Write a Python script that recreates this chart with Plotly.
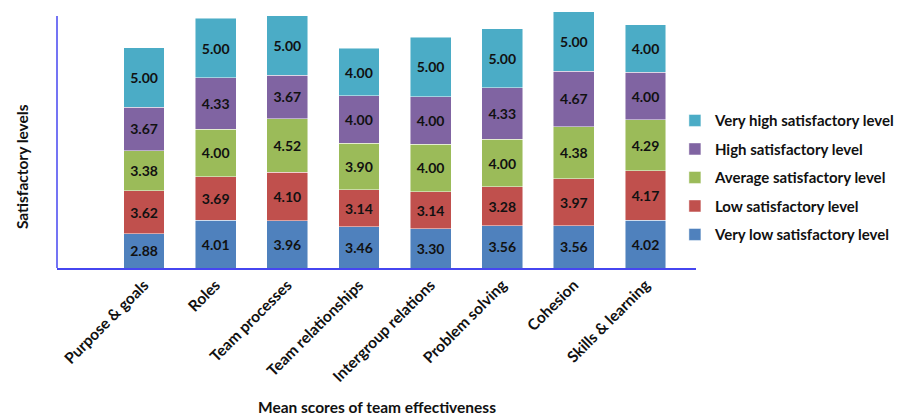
import plotly.graph_objects as go

categories = ["Purpose & goals", "Roles", "Team processes", "Team relationships",
              "Intergroup relations", "Problem solving", "Cohesion", "Skills & learning"]

very_low = [2.88, 4.01, 3.96, 3.46, 3.30, 3.56, 3.56, 4.02]
low = [3.62, 3.69, 4.10, 3.14, 3.14, 3.28, 3.97, 4.17]
average = [3.38, 4.00, 4.52, 3.90, 4.00, 4.00, 4.38, 4.29]
high = [3.67, 4.33, 3.67, 4.00, 4.00, 4.33, 4.67, 4.00]
very_high = [5.00, 5.00, 5.00, 4.00, 5.00, 5.00, 5.00, 4.00]

series = [
    ("Very low satisfactory level", very_low, "#4F81BD"),
    ("Low satisfactory level", low, "#C0504D"),
    ("Average satisfactory level", average, "#9BBB59"),
    ("High satisfactory level", high, "#8064A2"),
    ("Very high satisfactory level", very_high, "#4BACC6"),
]

FONT = "Lato"
AXIS_COLOR = "#4646F0"

fig = go.Figure()
n = len(series)
for i, (name, vals, col) in enumerate(series):
    fig.add_trace(go.Bar(
        x=list(range(len(categories))), y=vals, name=name,
        legendgroup=f"g{i}", legendrank=n - i,
        marker=dict(color=col, line=dict(color="rgba(255,255,255,0.6)", width=0.8)),
        width=0.57,
        text=[f"{v:.2f}" for v in vals],
        textposition="inside", insidetextanchor="middle", textangle=0,
        textfont=dict(family=FONT, size=14, color="#111111", weight="bold"),
        hoverinfo="skip",
    ))

fig.update_layout(
    width=901, height=407,
    barmode="stack",
    plot_bgcolor="white", paper_bgcolor="white",
    margin=dict(l=49, r=213, t=0, b=147),
    font=dict(family=FONT, color="#111111"),
    uniformtext=dict(minsize=14, mode="show"),
    showlegend=True,
    legend=dict(
        x=0.967, xanchor="left", y=0.63, yanchor="top",
        traceorder="grouped", tracegroupgap=6,
        font=dict(family=FONT, size=15, color="#111111", weight="bold"),
        bgcolor="rgba(0,0,0,0)",
    ),
    xaxis=dict(
        range=[-1.215, 7.705],
        tickmode="array", tickvals=list(range(len(categories))), ticktext=categories,
        tickangle=-45, showgrid=False, zeroline=False,
        showline=True, linecolor=AXIS_COLOR, linewidth=2, ticks="",
        tickfont=dict(family=FONT, size=15.5, color="#111111", weight="bold"),
    ),
    yaxis=dict(
        range=[0, 21.9], showgrid=False, zeroline=False,
        showticklabels=False, ticks="", showline=False,
    ),
    annotations=[
        dict(text="Satisfactory levels", xref="paper", yref="paper",
             x=-0.072, y=0.392, textangle=-90, showarrow=False,
             font=dict(family=FONT, size=15.5, color="#111111", weight="bold")),
        dict(text="Mean scores of team effectiveness", xref="paper", yref="paper",
             x=0.5, y=-0.577, showarrow=False,
             font=dict(family=FONT, size=15.5, color="#111111", weight="bold")),
    ],
    shapes=[
        dict(type="line", xref="paper", yref="y", x0=0, x1=0, y0=0, y1=21.23,
             line=dict(color=AXIS_COLOR, width=1.5)),
    ],
)

fig.write_html("out.html")
